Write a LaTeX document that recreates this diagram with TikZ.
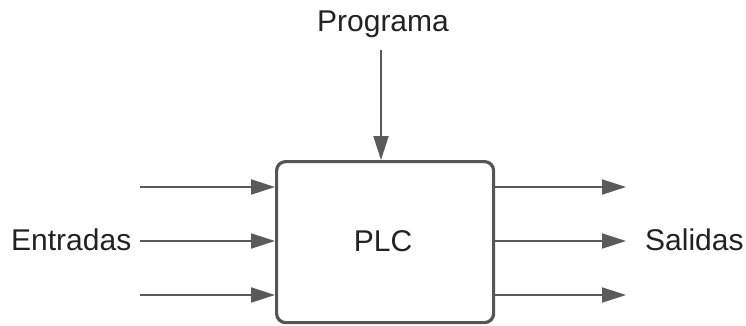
\documentclass[tikz,border=0pt]{standalone}
\usepackage{fontspec}
\setmainfont{Liberation Sans}
\usetikzlibrary{arrows.meta}
\definecolor{linegray}{HTML}{5A5A5A}
\definecolor{boxgray}{HTML}{555555}
\definecolor{txt}{HTML}{222222}
\tikzset{
  flow/.style={draw=linegray, line width=2pt, -{Triangle[length=24pt,width=15pt]}},
  plcbox/.style={draw=boxgray, line width=3.2pt, rounded corners=9pt, fill=white},
  lbl/.style={text=txt, font=\fontsize{30}{35}\selectfont, inner sep=0pt}
}
\begin{document}
\begin{tikzpicture}[x=1pt,y=-1pt]
\useasboundingbox (0,0) rectangle (746,325);
% controller block
\node[plcbox, minimum width=217pt, minimum height=161pt, anchor=north west] (plc) at (275,160) {};
\node[lbl] (plct) at (383,241) {PLC};
% labels
\node[lbl, anchor=base] (prog) at (383,31) {Programa};
\node[lbl, anchor=base west] (ent) at (11,250) {Entradas};
\node[lbl, anchor=base west] (sal) at (645,250) {Salidas};
% connector endpoints
\coordinate (ptop) at (381,50);
\coordinate (in1) at (140,187);
\coordinate (in2) at (140,241);
\coordinate (in3) at (140,295);
\coordinate (out1) at (626,187);
\coordinate (out2) at (626,241);
\coordinate (out3) at (626,295);
% program input
\draw[flow] (ptop) -- (ptop |- plc.north);
% inputs
\draw[flow] (in1) -- (in1 -| plc.west);
\draw[flow] (in2) -- (in2 -| plc.west);
\draw[flow] (in3) -- (in3 -| plc.west);
% outputs
\draw[flow] (out1 -| plc.east) -- (out1);
\draw[flow] (out2 -| plc.east) -- (out2);
\draw[flow] (out3 -| plc.east) -- (out3);
\end{tikzpicture}
\end{document}
